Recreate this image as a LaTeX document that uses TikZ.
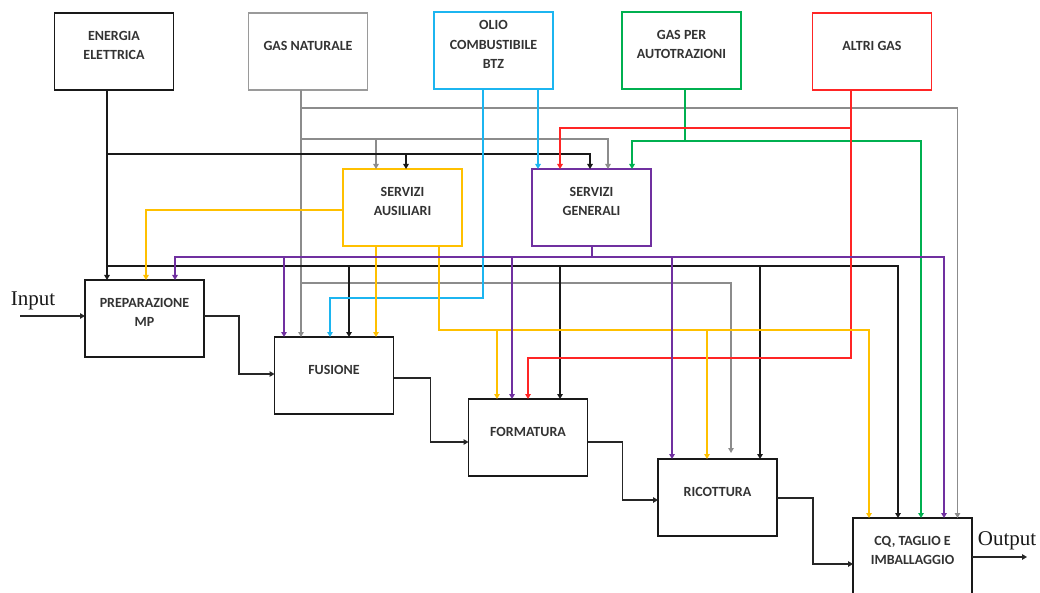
\documentclass[tikz,border=0pt]{standalone}
\usepackage{fontspec}
\setmainfont{Carlito}
\newfontfamily\ioserif{Liberation Serif}
\usetikzlibrary{arrows.meta,calc}
\definecolor{cYel}{HTML}{FFC000}
\definecolor{cPur}{HTML}{7030A0}
\definecolor{cCya}{HTML}{1CB5F0}
\definecolor{cGre}{HTML}{00B050}
\definecolor{cRed}{HTML}{FF2525}
\definecolor{cGry}{HTML}{8C8C8C}
\definecolor{cGryBox}{HTML}{9A9A9A}
\definecolor{cTxt}{HTML}{333333}
\begin{document}
\begin{tikzpicture}[x=1pt,y=-1pt,
  box/.style={draw, line width=1.5pt, minimum width=119pt, minimum height=77pt, inner sep=0pt, outer sep=0pt},
  lbl/.style={font=\bfseries\fontsize{14}{19.5}\selectfont, align=center, text=cTxt, inner sep=0pt},
  io/.style={font=\ioserif\fontsize{21}{24}\selectfont, text=black!90, inner sep=0pt},
  tip/.style={-{Triangle[length=5pt,width=5.5pt]}},
  kc/.style={draw=black!90, line width=1.3pt},
  gc/.style={draw=cGry, line width=1.1pt},
  cc/.style={draw=cCya, line width=1.3pt},
  vc/.style={draw=cGre, line width=1.3pt},
  rc/.style={draw=cRed, line width=1.3pt},
  yc/.style={draw=cYel, line width=1.3pt},
  pc/.style={draw=cPur, line width=1.3pt},
  flow/.style={draw=black!85, line width=1.5pt}]
\useasboundingbox (0,0) rectangle (1040,593);

% ---------- boxes ----------
\node[box,draw=black!90] (ee) at (114,51.5) {};
\node[lbl] (eet) at ([yshift=-32.5pt]ee.north) {ENERGIA\\ELETTRICA};
\node[box,draw=cGryBox] (gn) at (308,51.5) {};
\node[lbl] (gnt) at ([yshift=-32.5pt]gn.north) {GAS NATURALE};
\node[box,draw=cCya] (olio) at (493.5,50.5) {};
\node[lbl] (oliot) at ([yshift=-32.5pt]olio.north) {OLIO\\COMBUSTIBILE\\BTZ};
\node[box,draw=cGre] (gpa) at (681.5,50.5) {};
\node[lbl] (gpat) at ([yshift=-32.5pt]gpa.north) {GAS PER\\AUTOTRAZIONI};
\node[box,draw=cRed] (ag) at (872,51.5) {};
\node[lbl] (agt) at ([yshift=-32.5pt]ag.north) {ALTRI GAS};

\node[box,draw=cYel] (sa) at (402.5,207.5) {};
\node[lbl] (sat) at ([yshift=-32.5pt]sa.north) {SERVIZI\\AUSILIARI};
\node[box,draw=cPur] (sg) at (591.5,207.5) {};
\node[lbl] (sgt) at ([yshift=-32.5pt]sg.north) {SERVIZI\\GENERALI};

\node[box,draw=black!90] (prep) at (144.5,318.5) {};
\node[lbl] (prept) at ([yshift=-32.5pt]prep.north) {PREPARAZIONE\\MP};
\node[box,draw=black!90] (fus) at (334,375.5) {};
\node[lbl] (fust) at ([yshift=-32.5pt]fus.north) {FUSIONE};
\node[box,draw=black!90] (form) at (528,437.5) {};
\node[lbl] (formt) at ([yshift=-32.5pt]form.north) {FORMATURA};
\node[box,draw=black!90] (ric) at (717.5,497.5) {};
\node[lbl] (rict) at ([yshift=-32.5pt]ric.north) {RICOTTURA};
\node[box,draw=black!90,minimum height=80pt] (cq) at (912.5,558) {};
\node[lbl] (cqt) at ([yshift=-32.5pt]cq.north) {CQ, TAGLIO E\\IMBALLAGGIO};

% ---------- junction coordinates ----------
\coordinate (kj1) at (107,154);
\coordinate (kd1) at (406,154);
\coordinate (kj2) at (107,266);
\coordinate (kd2) at (349,266);
\coordinate (kd3) at (560,266);
\coordinate (kd4) at (760,266);
\coordinate (gj1) at (301,108);
\coordinate (gj2) at (301,139);
\coordinate (gd1) at (376,139);
\coordinate (gj3) at (301,283);
\coordinate (cb1) at (483,298);
\coordinate (vj) at (685,141);
\coordinate (rj1) at (851,128);
\coordinate (rb) at (851,358);
\coordinate (yj) at (439,330);
\coordinate (yd1) at (497,330);
\coordinate (yd2) at (707,330);
\coordinate (pj) at (592,257);
\coordinate (pd1) at (284,257);
\coordinate (pd2) at (512,257);
\coordinate (pd3) at (672,257);
\coordinate (in) at (20,316);
\coordinate (out) at (1027,557);

% ---------- gray: gas naturale ----------
\draw[gc,tip] ([xshift=-7pt]gn.south) -- ([xshift=-33pt]fus.north);
\draw[gc,tip] (gj1) -| ([xshift=45pt]cq.north);
\draw[gc,tip] (gj2) -| ([xshift=16.5pt]sg.north);
\draw[gc,tip] (gd1) -- ([xshift=-26.5pt]sa.north);
\draw[gc,tip] (gj3) -| ([xshift=13.5pt,yshift=6pt]ric.north);

% ---------- black: energia elettrica ----------
\draw[kc,tip] ([xshift=-7pt]ee.south) -- ([xshift=-37.5pt]prep.north);
\draw[kc,tip] (kj1) -| ([xshift=-1.5pt]sg.north);
\draw[kc,tip] (kd1) -- ([xshift=3.5pt]sa.north);
\draw[kc,tip] (kj2) -| ([xshift=-14.5pt]cq.north);
\draw[kc,tip] (kd2) -- ([xshift=15pt]fus.north);
\draw[kc,tip] (kd3) -- ([xshift=32pt]form.north);
\draw[kc,tip] (kd4) -- ([xshift=42.5pt]ric.north);

% ---------- cyan: olio ----------
\draw[cc,tip] ([xshift=-10.5pt]olio.south) -- (cb1) -| ([xshift=-4pt]fus.north);
\draw[cc,tip] ([xshift=44.5pt]olio.south) -- ([xshift=-53.5pt]sg.north);

% ---------- green: gas per autotrazioni ----------
\draw[vc] ([xshift=3.5pt]gpa.south) -- (vj);
\draw[vc,tip] (vj) -| ([xshift=40.5pt]sg.north);
\draw[vc,tip] (vj) -| ([xshift=8.5pt]cq.north);

% ---------- red: altri gas ----------
\draw[rc,tip] ([xshift=-21pt]ag.south) -- (rb) -| (form.north);
\draw[rc,tip] (rj1) -| ([xshift=-31.5pt]sg.north);

% ---------- yellow: servizi ausiliari ----------
\draw[yc,tip] ([yshift=-2.5pt]sa.west) -| ([xshift=1.5pt]prep.north);
\draw[yc,tip] ([xshift=-26.5pt]sa.south) -- ([xshift=42pt]fus.north);
\draw[yc,tip] ([xshift=36.5pt]sa.south) -- (yj) -| ([xshift=-43.5pt]cq.north);
\draw[yc,tip] (yd1) -- ([xshift=-31pt]form.north);
\draw[yc,tip] (yd2) -- ([xshift=-10.5pt]ric.north);

% ---------- purple: servizi generali ----------
\draw[pc] ([xshift=0.5pt]sg.south) -- (pj);
\draw[pc,tip] (pj) -| ([xshift=30.5pt]prep.north);
\draw[pc,tip] (pj) -| ([xshift=31.5pt]cq.north);
\draw[pc,tip] (pd1) -- ([xshift=-50pt]fus.north);
\draw[pc,tip] (pd2) -- ([xshift=-16pt]form.north);
\draw[pc,tip] (pd3) -- ([xshift=-45.5pt]ric.north);

% ---------- process flow ----------
\draw[flow,tip] (in) -- ([yshift=2.5pt]prep.west);
\draw[flow,tip] ([yshift=2.5pt]prep.east) -- ++(35,0) |- ([yshift=1.5pt]fus.west);
\draw[flow,tip] ([yshift=-2.5pt]fus.east) -- ++(37,0) |- ([yshift=-4.5pt]form.west);
\draw[flow,tip] ([yshift=-4.5pt]form.east) -- ++(35,0) |- ([yshift=-2.5pt]ric.west);
\draw[flow,tip] ([yshift=-0.5pt]ric.east) -- ++(36,0) |- ([yshift=-6pt]cq.west);
\draw[flow,tip] ([yshift=1pt]cq.east) -- (out);

\node[io] (inl) at (33,301) {Input};
\node[io] (outl) at (1007,541) {Output};
\end{tikzpicture}
\end{document}
